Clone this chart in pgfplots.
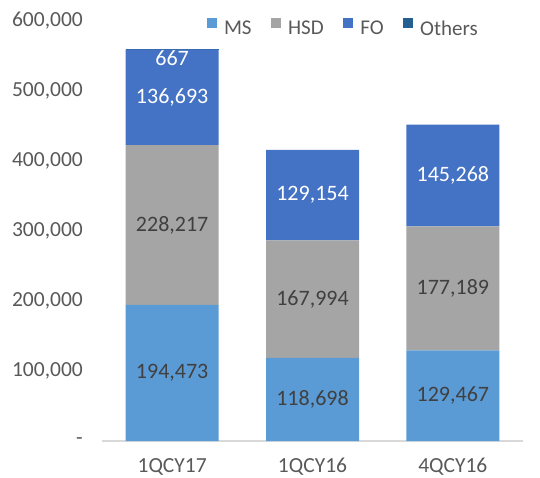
\documentclass[border=0pt]{standalone}
\usepackage{pgfplots}
\pgfplotsset{compat=1.18}
\usepackage{pgfplotstable}
\usepackage{fontspec}
\setmainfont{Carlito}
\definecolor{cMS}{HTML}{5B9BD5}
\definecolor{cHSD}{HTML}{A5A5A5}
\definecolor{cFO}{HTML}{4472C4}
\definecolor{cOT}{HTML}{255E91}
\definecolor{txt}{HTML}{595959}
\definecolor{lbl}{HTML}{404040}
\definecolor{axl}{HTML}{D9D9D9}

% values in thousands
\pgfplotstableread{
x y label
0 194.473 194,473
1 118.698 118,698
2 129.467 129,467
}\ms
\pgfplotstableread{
x y label
0 228.217 228,217
1 167.994 167,994
2 177.189 177,189
}\hsd
\pgfplotstableread{
x y label
0 136.693 136,693
1 129.154 129,154
2 145.268 145,268
}\fo
\pgfplotstableread{
x y label
0 0.667 667
1 0 {}
2 0 {}
}\others

\begin{document}
\begin{tikzpicture}[font=\fontsize{21.5}{25}\selectfont]
\begin{axis}[
  at={(0,0)}, anchor=south west,
  scale only axis, width=421pt, height=420pt,
  ybar stacked, bar width=93pt,
  xmin=-0.5, xmax=2.5, ymin=0, ymax=600,
  xtick={0,1,2}, xticklabels={1QCY17,1QCY16,4QCY16},
  ytick={0,100,200,300,400,500,600},
  yticklabels={{-\hspace{6pt}},{100,000},{200,000},{300,000},{400,000},{500,000},{600,000}},
  axis x line*=bottom, axis y line*=left,
  y axis line style={draw=none},
  x axis line style={draw=axl, line width=1.6pt},
  major tick length=0pt,
  ticklabel style={text=txt},
  yticklabel style={anchor=east, inner sep=0pt, xshift=-19pt},
  xticklabel style={anchor=north, inner sep=0pt, yshift=-17pt},
  point meta=explicit symbolic,
  nodes near coords,
  every node near coord/.append style={anchor=center, font=\fontsize{22}{26}\selectfont, text=lbl},
  legend columns=-1,
  legend style={draw=none, fill=none, at={(0.249,0.985)}, anchor=west, inner sep=0pt, text=txt,
    font=\fontsize{21}{25}\selectfont,
    nodes={inner sep=0pt},
    /tikz/every odd column/.append style={column sep=7pt},
    /tikz/every even column/.append style={column sep=19.5pt}},
  every axis plot post/.append style={legend image code/.code={\fill[##1, draw=none] (0pt,1pt) rectangle (10pt,11pt);}},
]
\addplot[fill=cMS, draw=none] table[x=x,y=y,meta=label]{\ms};
\addplot[fill=cHSD, draw=none] table[x=x,y=y,meta=label]{\hsd};
\addplot[fill=cFO, draw=none, every node near coord/.append style={text=white}] table[x=x,y=y,meta=label]{\fo};
\addplot[fill=cOT, draw=none, every node near coord/.style={anchor=north, inner sep=0pt, yshift=-1pt, font=\fontsize{22}{26}\selectfont, text=white}] table[x=x,y=y,meta=label]{\others};
\legend{MS,HSD,FO,Others}
\end{axis}
\pgfresetboundingbox
\path (-102pt,-36pt) rectangle (438pt,441pt);
\end{tikzpicture}
\end{document}
